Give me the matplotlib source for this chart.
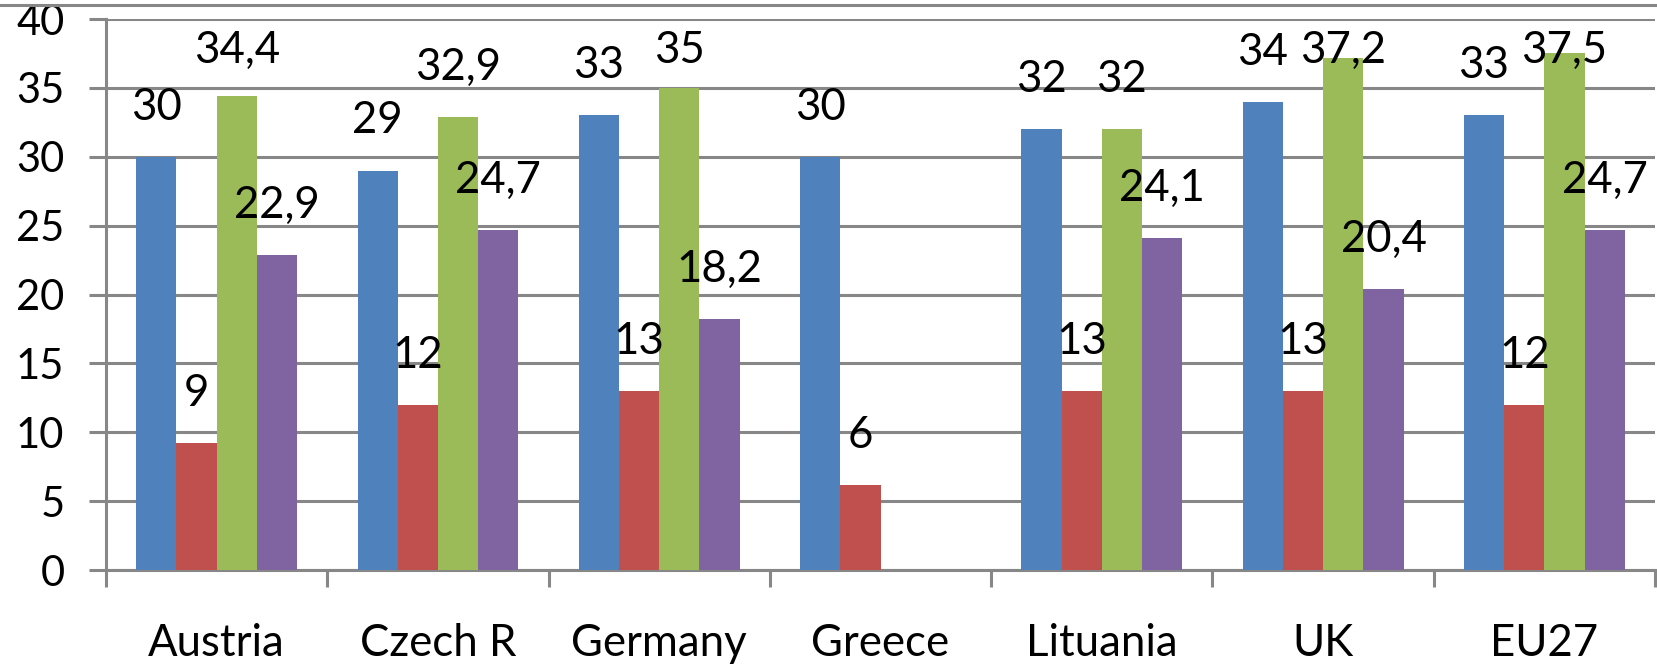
import numpy as np
import matplotlib
matplotlib.use("Agg")
import matplotlib.pyplot as plt
from matplotlib.lines import Line2D

plt.rcParams['font.family'] = ['Lato', 'DejaVu Sans']

categories = ["Austria", "Czech R", "Germany", "Greece", "Lituania", "UK", "EU27"]
blue = [30, 29, 33, 30, 32, 34, 33]
red = [9.2, 12, 13, 6.2, 13, 13, 12]
green = [34.4, 32.9, 35, np.nan, 32, 37.2, 37.5]
purple = [22.9, 24.7, 18.2, np.nan, 24.1, 20.4, 24.7]
yticks = [0, 5, 10, 15, 20, 25, 30, 35, 40]

series = [(blue, "#4F81BD", 0), (red, "#C0504D", 0),
          (green, "#9BBB59", 1), (purple, "#8064A2", 1)]

grey = "#878787"


def fmt(v, nd):
    return f"{round(v, nd):g}".replace(".", ",")


fig = plt.figure(figsize=(16.57, 6.66), dpi=100)
ax = fig.add_axes([0.064, 0.1441, 0.9348, 0.8273])

x = np.arange(len(categories))
w = 1 / 5.5
for i, (vals, col, nd) in enumerate(series):
    xs = x + (i - 1.5) * w
    ax.bar(xs, vals, width=w, color=col, zorder=3)
    for xi, v in zip(xs, vals):
        if np.isnan(v):
            continue
        ly = min(v + 3.6, 37.75)
        ax.text(xi, ly, fmt(v, nd), ha="center", va="center",
                fontsize=31.5, color="black", zorder=4)

ax.set_xlim(-0.5, len(categories) - 0.5)
ax.set_ylim(0, 40)
ax.set_yticks(yticks)
ax.set_yticklabels([str(t) for t in yticks])
ax.yaxis.grid(True, color=grey, linewidth=2.2, zorder=0)
ax.set_axisbelow(True)

# ticks at category boundaries, labels at centers
ax.set_xticks(np.arange(-0.5, len(categories), 1))
ax.set_xticklabels([])
ax.set_xticks(x, minor=True)
ax.set_xticklabels(categories, minor=True, fontsize=31.5)
ax.tick_params(axis="x", which="minor", length=0, pad=38)
ax.tick_params(axis="x", which="major", length=12, width=2.2, color=grey)
ax.tick_params(axis="y", length=12, width=2.2, color=grey, labelsize=30, pad=18)

for s in ["top", "right"]:
    ax.spines[s].set_visible(False)
for s in ["left", "bottom"]:
    ax.spines[s].set_color(grey)
    ax.spines[s].set_linewidth(2.2)

# chart border line at the top
fig.add_artist(Line2D([0, 1], [1 - 5 / 666, 1 - 5 / 666], color=grey,
                      linewidth=2.2, transform=fig.transFigure))

fig.savefig("out.png", dpi=100)
